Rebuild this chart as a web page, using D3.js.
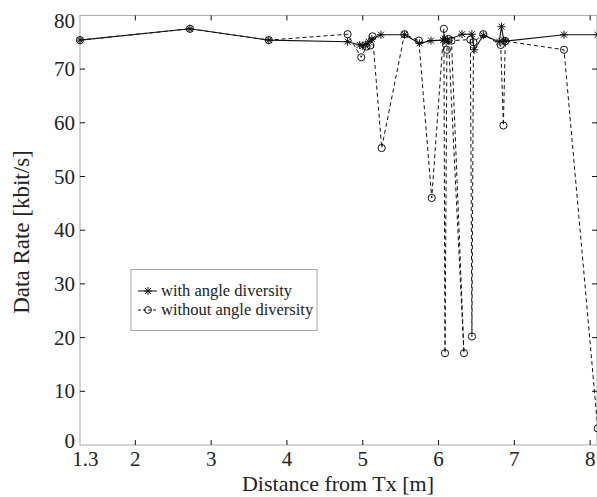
<!DOCTYPE html>
<html>
<head>
<meta charset="utf-8">
<script src="https://cdn.jsdelivr.net/npm/d3@7"></script>
<style>
  body { margin: 0; background: #fff; }
  svg { display: block; font-family: "Liberation Serif", "Times New Roman", serif; }
</style>
</head>
<body>
<div id="chart"></div>
<script>

/*
 * DATA
 */

// with angle diversity (solid, stars)
var distWith = [1.27, 2.72, 3.76, 4.8, 4.96, 5.0, 5.04, 5.08, 5.12, 5.24, 5.55, 5.75, 5.9,
                6.06, 6.08, 6.1, 6.12, 6.31, 6.44, 6.47, 6.59, 6.8, 6.83, 6.86, 6.88, 7.655, 8.1];
var rateWith = [75.4, 77.5, 75.4, 75.1, 74.5, 74.3, 74.6, 75.1, 75.6, 76.4, 76.4, 74.8, 75.3,
                75.4, 75.7, 75.1, 75.4, 76.5, 76.5, 73.6, 76.3, 75.1, 77.9, 75.4, 75.2, 76.4, 76.4];

// without angle diversity (dashed, circles)
var distWithout = [1.27, 2.72, 3.76, 4.8, 4.98, 5.05, 5.1, 5.13, 5.25, 5.55, 5.74, 5.91, 6.07,
                   6.085, 6.11, 6.13, 6.335, 6.17, 6.42, 6.44, 6.46, 6.59, 6.82, 6.855, 6.88, 7.655, 8.1];
var rateWithout = [75.4, 77.5, 75.4, 76.5, 72.2, 74.2, 74.4, 76.1, 55.3, 76.5, 75.3, 46.0, 77.5,
                   17.1, 73.6, 75.6, 17.1, 75.3, 75.5, 20.2, 75.0, 76.5, 74.5, 59.5, 75.2, 73.6, 3.1];

var xTicks = [1.3, 2, 3, 4, 5, 6, 7, 8];
var yTicks = [0, 10, 20, 30, 40, 50, 60, 70, 80];
var legendLabels = ["with angle diversity", "without angle diversity"];

/*
 * LAYOUT
 */

var W = 597, H = 497;
var plotL = 80, plotR = 597, plotT = 15.4, plotB = 445;

var svg = d3.select('#chart').append('svg')
    .attr('width', W).attr('height', H);

var x = d3.scaleLinear().domain([1.27, 8.09]).range([plotL, plotR]);
var y = d3.scaleLinear().domain([0, 80]).range([plotB, plotT]);

function zip(xs, ys) {
    return xs.map(function (d, i) { return [d, ys[i]]; });
}

var starPath = "M-4,0H4M0,-4V4M-3,-3L3,3M-3,3L3,-3";

/*
 * AXES (box, ticks inside)
 */

var axes = svg.append('g');

axes.append('rect')
    .attr('x', plotL).attr('y', plotT)
    .attr('width', plotR - plotL).attr('height', plotB - plotT)
    .attr('fill', 'none').attr('stroke', '#a8a8a8').attr('stroke-width', 1);

var xt = xTicks.filter(function (d) { return d !== 1.3; });
xt.forEach(function (t) {
    axes.append('line').attr('x1', x(t)).attr('x2', x(t)).attr('y1', plotB).attr('y2', plotB - 5)
        .attr('stroke', '#111');
    axes.append('line').attr('x1', x(t)).attr('x2', x(t)).attr('y1', plotT).attr('y2', plotT + 5)
        .attr('stroke', '#111');
});
yTicks.slice(1, -1).forEach(function (t) {
    axes.append('line').attr('x1', plotL).attr('x2', plotL + 5).attr('y1', y(t)).attr('y2', y(t))
        .attr('stroke', '#111');
    axes.append('line').attr('x1', plotR - 5).attr('x2', plotR).attr('y1', y(t)).attr('y2', y(t))
        .attr('stroke', '#111');
});

axes.selectAll('text.xlab').data(xTicks).enter().append('text')
    .attr('class', 'xlab')
    .attr('x', function (d) { return d === 1.3 ? x(d) + 3 : x(d); })
    .attr('y', 466)
    .attr('text-anchor', 'middle')
    .attr('font-size', 21).attr('fill', '#222')
    .text(function (d) { return d; });

axes.selectAll('text.ylab').data(yTicks).enter().append('text')
    .attr('class', 'ylab')
    .attr('x', 75)
    .attr('y', function (d) {
        // end labels are pulled into the box
        if (d === 80) return y(d) + 13;
        if (d === 0) return y(d) + 3;
        return y(d) + 7;
    })
    .attr('text-anchor', 'end')
    .attr('font-size', 21).attr('fill', '#222')
    .text(function (d) { return d; });

svg.append('text')
    .attr('x', 338).attr('y', 491)
    .attr('text-anchor', 'middle')
    .attr('font-size', 22).attr('fill', '#222')
    .text('Distance from Tx [m]');

svg.append('text')
    .attr('transform', 'translate(29,232) rotate(-90)')
    .attr('text-anchor', 'middle')
    .attr('font-size', 23).attr('fill', '#222')
    .text('Data Rate [kbit/s]');

/*
 * SERIES
 */

var line = d3.line()
    .x(function (d) { return x(d[0]); })
    .y(function (d) { return y(d[1]); });

var plot = svg.append('g');

var withPts = zip(distWith, rateWith);
var withoutPts = zip(distWithout, rateWithout);

plot.append('path').datum(withoutPts)
    .attr('d', line).attr('fill', 'none')
    .attr('stroke', '#111').attr('stroke-width', 1)
    .attr('stroke-dasharray', '4,3');

plot.append('path').datum(withPts)
    .attr('d', line).attr('fill', 'none')
    .attr('stroke', '#111').attr('stroke-width', 1.1);

plot.selectAll('circle.wo').data(withoutPts).enter().append('circle')
    .attr('class', 'wo')
    .attr('cx', function (d) { return x(d[0]); })
    .attr('cy', function (d) { return y(d[1]); })
    .attr('r', 3.6)
    .attr('fill', 'none').attr('stroke', '#111').attr('stroke-width', 1);

plot.selectAll('path.st').data(withPts).enter().append('path')
    .attr('class', 'st')
    .attr('d', starPath)
    .attr('transform', function (d) { return 'translate(' + x(d[0]) + ',' + y(d[1]) + ')'; })
    .attr('fill', 'none').attr('stroke', '#111').attr('stroke-width', 1);

/*
 * LEGEND
 */

var lg = svg.append('g');
lg.append('rect')
    .attr('x', 131).attr('y', 269.5).attr('width', 186).attr('height', 61)
    .attr('fill', '#fff').attr('stroke', '#a8a8a8');

legendLabels.forEach(function (lab, i) {
    var ly = 291 + i * 19;
    lg.append('line').attr('x1', 138).attr('x2', 157).attr('y1', ly).attr('y2', ly)
        .attr('stroke', '#111').attr('stroke-dasharray', i === 1 ? '3,2' : null);
    if (i === 0) {
        lg.append('path').attr('d', starPath)
            .attr('transform', 'translate(148,' + ly + ')')
            .attr('fill', 'none').attr('stroke', '#111');
    } else {
        lg.append('circle').attr('cx', 148).attr('cy', ly).attr('r', 3.4)
            .attr('fill', 'none').attr('stroke', '#111');
    }
    lg.append('text')
        .attr('x', 161).attr('y', ly + 5)
        .attr('font-size', 16.5).attr('fill', '#222')
        .text(lab);
});

</script>
</body>
</html>
